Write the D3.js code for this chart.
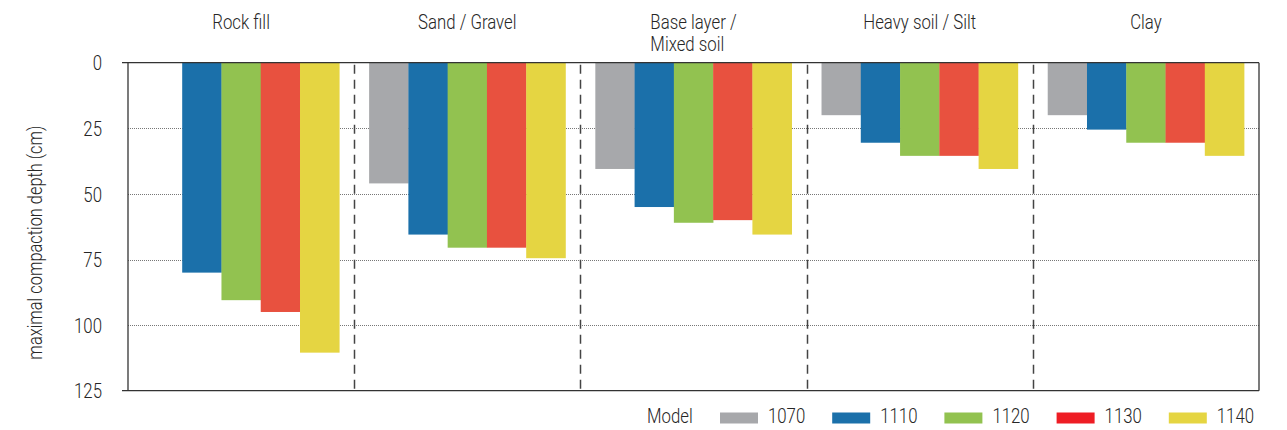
<!DOCTYPE html>
<html>
<head>
<meta charset="utf-8">
<script src="https://cdn.jsdelivr.net/npm/d3@7"></script>
<style>
  html, body { margin: 0; padding: 0; background: #fff; }
  svg { display: block; }
  text { font-family: Roboto, "Liberation Sans", sans-serif; font-weight: 300; fill: #262626; }
</style>
</head>
<body>
<svg id="chart" width="1287" height="430"></svg>
<script>
// ---- data ----
const categories = ["Rock fill", "Sand / Gravel", "Base layer /\nMixed soil", "Heavy soil / Silt", "Clay"];
const models = ["1070", "1110", "1120", "1130", "1140"];
const values1070 = [0, 46, 40.5, 20, 20];
const values1110 = [80, 65.5, 55, 30.5, 25.5];
const values1120 = [90.5, 70.5, 61, 35.5, 30.5];
const values1130 = [95, 70.5, 60, 35.5, 30.5];
const values1140 = [110.5, 74.5, 65.5, 40.5, 35.5];
const yTicks = [0, 25, 50, 75, 100, 125];
const barColors = ["#a7a8ab", "#1b70aa", "#92c250", "#e8513f", "#e5d542"];
const legendColors = ["#a7a8ab", "#1b70aa", "#92c250", "#ee1d24", "#e5d542"];
const yTitle = "maximal compaction depth (cm)";
const legendTitle = "Model";

const series = [values1070, values1110, values1120, values1130, values1140];

const SX = 0.84;      // horizontal squeeze of the lettering
const FS = 20;        // font size
const svg = d3.select("#chart");
const pLeft = 128, pRight = 1259, pTop = 62.7, pBottom = 390.7;

const x0 = d3.scaleBand().domain(categories).range([pLeft, pRight]).paddingInner(0).paddingOuter(0);
const x1 = d3.scaleBand().domain(models).range([0, x0.bandwidth()]).paddingInner(0).paddingOuter(0.38);
const y = d3.scaleLinear().domain([0, 125]).range([pTop, pBottom]);

function place(sel, x, yy) {
  return sel.attr("transform", `translate(${x},${yy}) scale(${SX},1)`);
}

// gridlines
svg.append("g").selectAll("line").data(yTicks.filter(t => t > 0 && t < 125)).join("line")
  .attr("x1", pLeft).attr("x2", pRight)
  .attr("y1", d => Math.round(y(d)) + 0.5).attr("y2", d => Math.round(y(d)) + 0.5)
  .attr("stroke", "#777").attr("stroke-width", 1).attr("stroke-dasharray", "1,1");

// bars
const groups = svg.append("g").selectAll("g").data(categories).join("g")
  .attr("transform", d => `translate(${x0(d)},0)`);
groups.selectAll("rect").data((c, i) => models.map((m, j) => ({ m, j, v: series[j][i] }))).join("rect")
  .attr("x", d => x1(d.m))
  .attr("width", x1.bandwidth() + 0.3)
  .attr("y", y(0))
  .attr("height", d => y(d.v) - y(0))
  .attr("fill", d => barColors[d.j]);

// dashed separators
svg.append("g").selectAll("line").data(categories.slice(1)).join("line")
  .attr("x1", d => Math.round(x0(d)) + 0.5).attr("x2", d => Math.round(x0(d)) + 0.5)
  .attr("y1", pTop + 2).attr("y2", pBottom)
  .attr("stroke", "#444").attr("stroke-width", 1.5).attr("stroke-dasharray", "9,6");

// frame
const frame = svg.append("g").attr("stroke", "#333").attr("stroke-width", 1.3).attr("fill", "none");
frame.append("line").attr("x1", pLeft - 6).attr("x2", pRight).attr("y1", y(0)).attr("y2", y(0));
frame.append("line").attr("x1", pLeft - 6).attr("x2", pRight).attr("y1", y(125)).attr("y2", y(125));
frame.append("line").attr("x1", pLeft).attr("x2", pLeft).attr("y1", y(0)).attr("y2", y(125));
frame.append("line").attr("x1", pRight).attr("x2", pRight).attr("y1", y(0)).attr("y2", y(125));

// y axis labels
const yAxis = d3.axisLeft(y).tickValues(yTicks).tickSize(0).tickPadding(26);
const ya = svg.append("g").attr("transform", `translate(${pLeft},0)`).call(yAxis);
ya.select(".domain").remove();
ya.selectAll("text")
  .attr("font-size", FS).attr("fill", "#262626")
  .attr("x", -26 / SX).attr("dy", "0.36em")
  .attr("transform", `scale(${SX},1)`)
  .style("font-family", 'Roboto, "Liberation Sans", sans-serif').style("font-weight", 300);

// y title
svg.append("text")
  .attr("transform", `translate(42,${(pTop + pBottom) / 2 + 16}) rotate(-90) scale(${SX},1)`)
  .attr("text-anchor", "middle").attr("font-size", 19.5).text(yTitle);

// category labels
svg.append("g").selectAll("text").data(categories).join("text")
  .attr("font-size", FS)
  .each(function (d) {
    const lines = d.split("\n");
    const t = d3.select(this);
    const cx = x0(d) + x0.bandwidth() / 2;
    lines.forEach((ln, k) => {
      t.append("tspan").attr("x", 0).attr("y", k * 22).text(ln);
    });
    if (lines.length === 1) {
      t.attr("text-anchor", "middle");
      place(t, cx, 29);
    } else {
      let w = 0;
      t.selectAll("tspan").each(function () { w = Math.max(w, this.getComputedTextLength()); });
      t.attr("text-anchor", "start");
      place(t, cx - (w * SX) / 2, 29);
    }
  });

// legend
const lg = svg.append("g");
place(lg.append("text").attr("font-size", FS).text(legendTitle), 647, 423);
const items = lg.selectAll("g.item").data(models).join("g").attr("class", "item")
  .attr("transform", (d, i) => `translate(${720 + i * 112.2},0)`);
items.append("rect").attr("x", 0).attr("y", 412.5).attr("width", 38).attr("height", 11)
  .attr("fill", (d, i) => legendColors[i]);
items.append("text").attr("font-size", FS).text(d => d)
  .attr("transform", `translate(48,423) scale(${SX},1)`);
</script>
</body>
</html>
